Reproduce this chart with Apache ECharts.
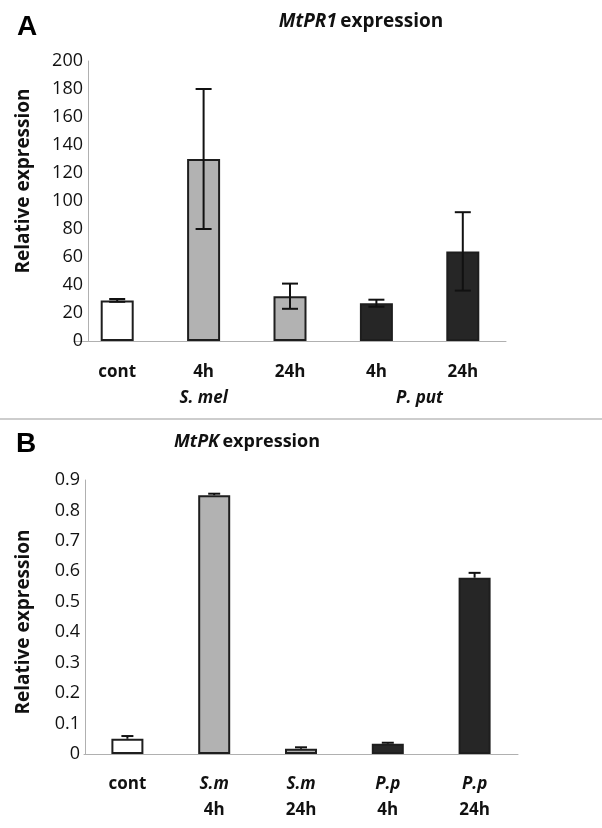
<!DOCTYPE html>
<html><head><meta charset="utf-8">
<script src="https://cdn.jsdelivr.net/npm/echarts@6/dist/echarts.min.js"></script>
<style>html,body{margin:0;padding:0;background:#fff}#c{width:602px;height:828px}</style>
</head><body><div id="c"></div>
<script>
// Panel A: MtPR1
const catsA = ['cont', '4h', '24h', '4h', '24h'];
const meanA = [29, 130, 32, 27, 64];
const errA = [1, 50, 9, 2.5, 28];
const groupA = ['', 'S. mel', '', 'P. put'];
const yTicksA = { min: 0, max: 200, interval: 20 };
// Panel B: MtPK
const catsB1 = ['cont', 'S.m', 'S.m', 'P.p', 'P.p'];
const catsB2 = ['', '4h', '24h', '4h', '24h'];
const meanB = [0.05, 0.85, 0.017, 0.034, 0.579];
const errB = [0.009, 0.005, 0.005, 0.003, 0.016];
const yTicksB = { min: 0, max: 0.9, interval: 0.1 };
const groupOf = ['ctrl', 'sm', 'sm', 'pp', 'pp'];

const FILL = { ctrl: '#ffffff', sm: '#b2b2b2', pp: '#262626' };
const FONT = '"Open Sans", sans-serif';
const chart = echarts.init(document.getElementById('c'), null, { renderer: 'canvas' });

function errSeries(means, errs, xi, yi, both, cap) {
  return {
    type: 'custom', xAxisIndex: xi, yAxisIndex: yi, z: 10,
    data: means.map((m, i) => [i, m, errs[i]]),
    renderItem: function (params, api) {
      const x = api.value(0), v = api.value(1), e = api.value(2);
      const top = api.coord([x, v + e]);
      const bot = api.coord([x, both ? v - e : v]);
      const st = { stroke: '#111', lineWidth: 2 };
      const ch = [
        { type: 'line', shape: { x1: top[0], y1: top[1], x2: bot[0], y2: bot[1] }, style: st },
        { type: 'line', shape: { x1: top[0] - cap, y1: top[1], x2: top[0] + cap, y2: top[1] }, style: st }
      ];
      if (both) ch.push({ type: 'line', shape: { x1: bot[0] - cap, y1: bot[1], x2: bot[0] + cap, y2: bot[1] }, style: st });
      return { type: 'group', children: ch };
    }
  };
}

const axisGrey = '#b0b0b0';
const option = {
  animation: false,
  backgroundColor: '#fff',
  grid: [
    { left: 74, right: 96, top: 61, bottom: 487 },
    { left: 84, right: 84, top: 480, bottom: 74 }
  ],
  xAxis: [
    {
      type: 'category', gridIndex: 0, data: catsA,
      axisLine: { onZero: false, lineStyle: { color: axisGrey, width: 1 } },
      axisTick: { length: 6, lineStyle: { color: axisGrey } },
      axisLabel: { interval: 0, margin: 23, color: '#111', fontFamily: FONT, fontWeight: 'bold', fontSize: 17 }
    },
    {
      type: 'value', gridIndex: 0, min: -0.5, max: 4.5, interval: 0.5, position: 'bottom',
      axisLine: { show: false, onZero: false }, axisTick: { show: false }, splitLine: { show: false },
      axisLabel: {
        margin: 49, color: '#111', fontFamily: FONT, fontWeight: 'bold', fontStyle: 'italic', fontSize: 17,
        showMinLabel: true, showMaxLabel: true, hideOverlap: false,
        formatter: function (v) {
          const k = Math.round(v * 2);
          if (k === 2) return groupA[1];
          if (k === 7) return groupA[3];
          return '';
        }
      }
    },
    {
      type: 'category', gridIndex: 1, data: catsB1.map((t, i) => ({ value: t + '|' + catsB2[i] })),
      axisLine: { onZero: false, lineStyle: { color: axisGrey, width: 1 } },
      axisTick: { length: 6, lineStyle: { color: axisGrey } },
      axisLabel: {
        interval: 0, margin: 17, color: '#111', fontFamily: FONT, fontWeight: 'bold', fontSize: 17, lineHeight: 26,
        formatter: function (v) {
          const p = v.split('|');
          if (!p[1]) return '{n|' + p[0] + '}\n{n| }';
          return '{i|' + p[0] + '}\n{n|' + p[1] + '}';
        },
        rich: {
          n: { fontFamily: FONT, fontWeight: 'bold', fontSize: 17, color: '#111', lineHeight: 26 },
          i: { fontFamily: FONT, fontWeight: 'bold', fontStyle: 'italic', fontSize: 17, color: '#111', lineHeight: 26 }
        }
      }
    }
  ],
  yAxis: [
    {
      type: 'value', gridIndex: 0, min: yTicksA.min, max: yTicksA.max, interval: yTicksA.interval, offset: -14,
      axisLine: { show: true, onZero: false, lineStyle: { color: axisGrey, width: 1 } },
      axisTick: { show: false }, splitLine: { show: false },
      axisLabel: { margin: 5, color: '#111', fontFamily: FONT, fontSize: 18 },
      name: 'Relative expression', nameLocation: 'middle', nameRotate: 90, nameGap: 55,
      nameTextStyle: { fontFamily: FONT, fontWeight: 'bold', fontSize: 19, color: '#111', padding: [0, 0, 0, 40] }
    },
    {
      type: 'value', gridIndex: 1, min: yTicksB.min, max: yTicksB.max, interval: yTicksB.interval, offset: -1,
      axisLine: { show: true, onZero: false, lineStyle: { color: axisGrey, width: 1 } },
      axisTick: { show: false }, splitLine: { show: false },
      axisLabel: { margin: 5, color: '#111', fontFamily: FONT, fontSize: 18 },
      name: 'Relative expression', nameLocation: 'middle', nameRotate: 90, nameGap: 52,
      nameTextStyle: { fontFamily: FONT, fontWeight: 'bold', fontSize: 19, color: '#111', padding: [0, 10, 0, 0] }
    }
  ],
  series: [
    {
      type: 'bar', xAxisIndex: 0, yAxisIndex: 0, barWidth: 33,
      data: meanA.map((v, i) => ({ value: v, itemStyle: { color: FILL[groupOf[i]] } })),
      itemStyle: { borderColor: '#1e1e1e', borderWidth: 2 }
    },
    errSeries(meanA, errA, 0, 0, true, 8),
    {
      type: 'bar', xAxisIndex: 2, yAxisIndex: 1, barWidth: 32,
      data: meanB.map((v, i) => ({ value: v, itemStyle: { color: FILL[groupOf[i]] } })),
      itemStyle: { borderColor: '#1e1e1e', borderWidth: 2 }
    },
    errSeries(meanB, errB, 2, 1, false, 6)
  ],
  graphic: [
    { type: 'text', x: 27, y: 27, style: { text: 'A', font: 'bold 28px "Liberation Sans", Arial, sans-serif', fill: '#000', textAlign: 'center', textVerticalAlign: 'middle' } },
    { type: 'text', x: 26, y: 444, style: { text: 'B', font: 'bold 28px "Liberation Sans", Arial, sans-serif', fill: '#000', textAlign: 'center', textVerticalAlign: 'middle' } },
    { type: 'text', x: 361, y: 22, style: {
        text: '{i|MtPR1} {n|expression}', textAlign: 'center', textVerticalAlign: 'middle',
        rich: { i: { fontFamily: FONT, fontWeight: 'bold', fontStyle: 'italic', fontSize: 19, fill: '#111' },
                n: { fontFamily: FONT, fontWeight: 'bold', fontSize: 19, fill: '#111' } } } },
    { type: 'text', x: 247, y: 442, style: {
        text: '{i|MtPK} {n|expression}', textAlign: 'center', textVerticalAlign: 'middle',
        rich: { i: { fontFamily: FONT, fontWeight: 'bold', fontStyle: 'italic', fontSize: 18, fill: '#111' },
                n: { fontFamily: FONT, fontWeight: 'bold', fontSize: 18, fill: '#111' } } } },
    { type: 'line', shape: { x1: 0, y1: 419, x2: 602, y2: 419 }, style: { stroke: '#bdbdbd', lineWidth: 1.5 } }
  ]
};
chart.setOption(option);
</script></body></html>
